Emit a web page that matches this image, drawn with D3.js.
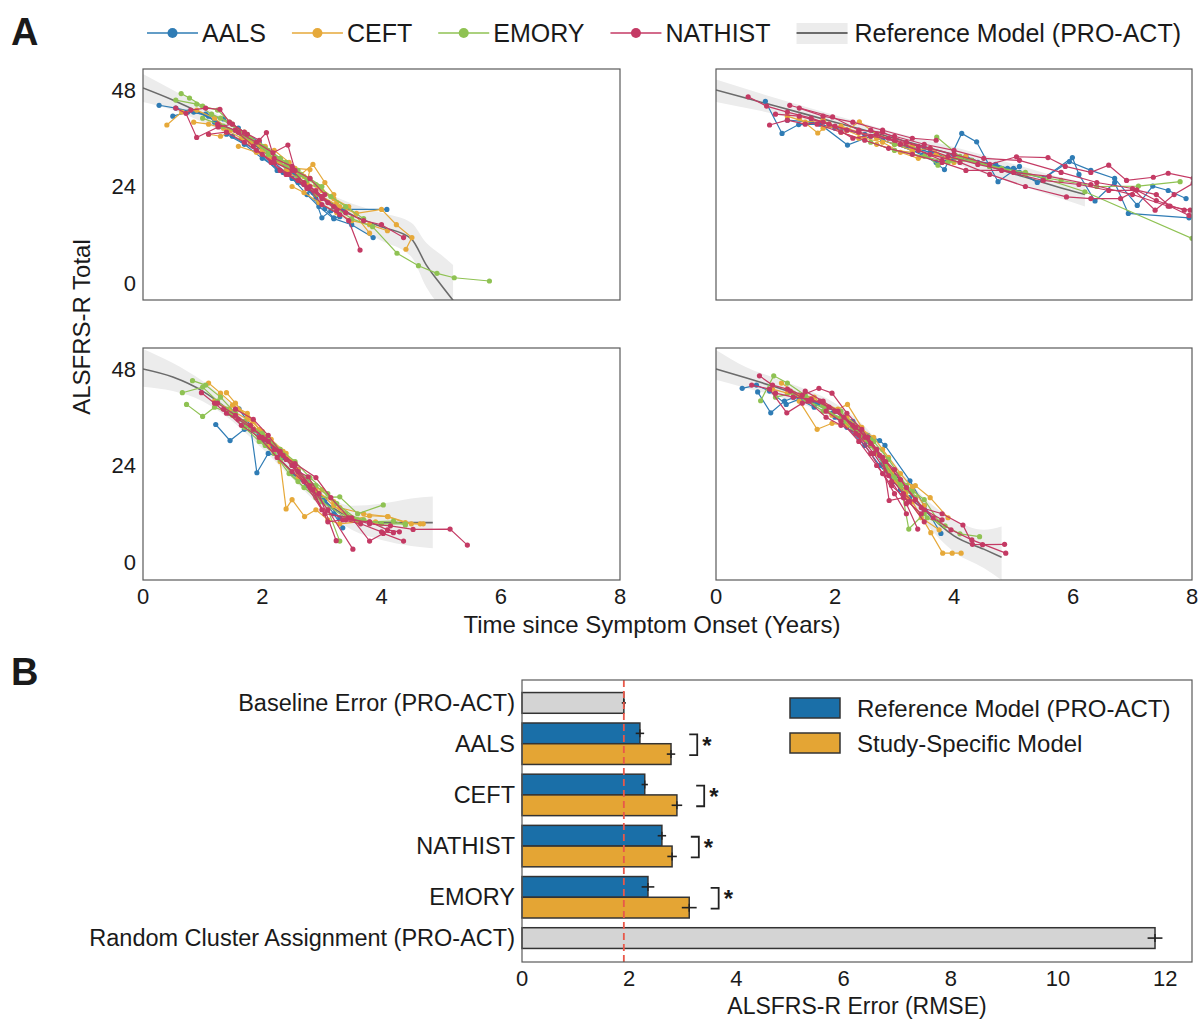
<!DOCTYPE html>
<html>
<head>
<meta charset="utf-8">
<script src="https://cdn.jsdelivr.net/npm/d3@7"></script>
<style>
  body { margin: 0; background: #fff; }
  text { font-family: "Liberation Sans", Arial, sans-serif; fill: #1a1a1a; }
</style>
</head>
<body>
<svg id="chart" width="1203" height="1019"></svg>
<script>
// ---------- Panel A data: ALSFRS-R trajectories, [years since onset, total score] ----------
const studies = ["AALS", "CEFT", "EMORY", "NATHIST"];
const studyColors = ["#2f7cb5", "#e6a93a", "#8fc253", "#c43a64"];
const scoreTicks = [0, 24, 48];
const yearTicks = [0, 2, 4, 6, 8];

// Cluster 1 (top left)
const p1AALS = [
  [[0.27,44.2],[0.55,43.5],[0.85,42.5],[1.1,41.5],[1.35,40.8],[1.6,38.5],[1.95,35],[2.3,31]],
  [[0.5,41.5],[0.75,42.5],[1.05,42],[1.3,39],[1.55,38],[1.8,35.5],[2.1,32.5]],
  [[1.4,37],[1.7,34.5],[2.0,31],[2.35,27.5],[2.6,25],[2.85,22.5],[3.0,16.2],[3.15,18],[3.36,18.3],[4.09,18.3]],
  [[2.2,30],[2.5,26],[2.75,22],[2.95,19],[3.2,16],[3.5,14.5],[3.86,11.3]],
  [[1.2,40],[1.5,36.5],[1.9,33],[2.25,28],[2.55,27],[2.8,23]],
  [[2.6,26],[2.9,21],[3.05,18.5],[3.2,16.2],[3.3,16.5]]
];
const p1CEFT = [
  [[0.4,39.3],[0.65,42.5],[0.9,43],[1.2,41],[1.45,38],[1.7,37.5],[2.0,33],[2.3,30]],
  [[1.1,37],[1.3,36.5],[1.55,38],[1.8,35],[2.05,34],[2.3,30.5],[2.55,28.5],[2.8,28.2],[2.75,25],[3.0,23],[3.25,20]],
  [[2.4,28],[2.7,25],[3.0,21.5],[3.3,19],[3.58,17.3],[4.0,18.3],[4.25,14.5],[4.51,11.3],[4.41,8.4]],
  [[1.6,34],[1.9,32.5],[2.15,31],[2.45,28],[2.7,26.5],[2.95,24],[3.2,21],[3.45,19],[3.8,12.4]],
  [[2.2,33],[2.45,30],[2.65,27],[2.85,29.5],[3.05,25],[3.2,22]],
  [[2.5,24],[2.7,22.5],[2.95,20],[3.25,17.5],[3.5,15.5],[3.8,14.5],[4.1,13]],
  [[0.85,40],[1.1,39.5],[1.35,38.5],[1.65,36],[1.95,34.5]]
];
const p1EMORY = [
  [[0.64,47.1],[0.78,46],[1.0,44],[1.25,43],[1.5,39.5],[1.8,36],[2.1,33]],
  [[0.55,45.5],[0.9,44.5],[1.15,42],[1.45,40],[1.75,37],[2.0,34],[2.3,31],[2.6,28]],
  [[1.3,41],[1.6,38],[1.9,35],[2.2,31.5],[2.5,28.5],[2.8,26],[3.0,24]],
  [[2.6,26.5],[2.9,22],[3.2,19],[3.5,16],[3.85,14],[4.26,7.4],[4.62,4.3],[4.93,2.4],[5.22,1.3],[5.81,0.5]],
  [[1.0,41],[1.35,39],[1.7,36.5],[2.05,33.5],[2.4,30],[2.75,25.5]],
  [[2.1,32],[2.4,29],[2.65,27],[2.9,24.5],[3.15,21.5],[3.4,19],[3.7,16]]
];
const p1NATHIST = [
  [[0.55,43.5],[0.72,42.2],[0.9,36.2],[1.26,38.8],[1.5,39.5],[1.75,37]],
  [[0.8,43],[1.05,43.5],[1.29,43.2],[1.45,40],[1.7,37.5],[1.95,35.5],[2.07,37.4],[2.2,31],[2.5,29]],
  [[1.6,37.5],[1.9,35],[2.18,32.4],[2.43,34.3],[2.55,28],[2.8,26],[3.05,22]],
  [[1.1,37],[1.4,37.5],[1.7,35],[2.0,32],[2.3,28],[2.6,25.5],[2.9,23],[3.2,19]],
  [[2.4,27],[2.7,24.5],[3.0,21],[3.25,18],[3.45,15.5],[3.64,8.2]],
  [[2.8,24],[3.1,20],[3.4,17.5],[3.7,15.5],[4.0,14.5],[4.37,11.3]],
  [[1.25,39.5],[1.55,38],[1.85,34],[2.15,30],[2.45,27],[2.75,23.5],[3.0,21.5]],
  [[1.9,33],[2.2,30],[2.5,28],[2.7,25],[3.0,19.5],[3.3,17]]
];

// Cluster 2 (top right)
const p2AALS = [
  [[0.83,45.2],[1.11,37.2],[1.39,39.4],[1.75,39.5],[2.21,34.3],[2.6,36.5],[3.0,35.5]],
  [[1.2,40.5],[1.6,40],[2.0,38.5],[2.5,37],[3.0,34.5],[3.5,32],[3.84,28.2],[4.13,37.2],[4.38,35.1],[4.74,25.2],[5.1,29]],
  [[3.2,34],[3.6,32.5],[4.0,31],[4.4,30],[4.9,28.5],[5.5,26],[5.99,31.2],[6.1,27],[6.37,20.4],[6.7,25],[6.93,17.3],[7.95,16.2]],
  [[2.8,35.5],[3.3,33],[3.7,30],[4.2,31.5],[4.6,29],[5.0,28.5],[5.4,25],[5.94,30.2],[6.3,28],[6.7,26],[7.08,19.3],[7.34,24.1],[7.6,23],[7.9,21]],
  [[3.5,33.5],[3.9,31],[4.3,30.5],[4.7,29.5],[5.1,27.5]]
];
const p2CEFT = [
  [[1.4,41],[1.71,37.3],[1.9,39.5],[2.2,38],[2.41,40.1],[2.7,37],[3.0,35.5],[3.3,34]],
  [[1.8,38.5],[2.1,39],[2.4,37.5],[2.7,36],[3.0,34.5],[3.3,33],[3.6,33.5],[3.9,31],[4.2,31.5]],
  [[2.2,38],[2.5,36],[2.8,35],[3.1,32.5],[3.4,31],[3.7,32],[4.0,30]],
  [[1.2,41.5],[1.5,40],[1.8,40.5],[2.1,37.5],[2.4,36],[2.7,34.5],[3.0,33],[3.3,32.5]]
];
const p2EMORY = [
  [[3.0,34.5],[3.4,33.5],[3.73,29.3],[4.1,31],[4.6,29],[5.2,27],[5.8,25.5],[6.4,24],[7.1,24.1],[7.8,25.2]],
  [[3.71,36.3],[4.1,31.5],[4.6,29],[5.2,27.5],[6.2,22.7],[8.0,11.1]],
  [[2.6,35],[3.0,33],[3.5,31.5],[3.9,30],[4.3,30.5],[4.8,28.5]]
];
const p2NATHIST = [
  [[0.54,46.3],[0.85,44],[1.2,42.5],[1.6,41],[2.0,39],[2.4,37.5],[2.9,36],[3.4,34],[3.9,31.5],[4.4,29.5],[5.0,27.5],[5.6,26.5],[6.3,24.5],[7.0,22],[7.6,19.1],[7.97,18.1]],
  [[0.9,39.3],[1.2,40.5],[1.5,39.5],[1.8,40],[2.2,38],[2.6,36.5],[3.0,35.5],[3.4,33],[3.8,30.5]],
  [[1.24,44.2],[1.96,41.3],[2.4,38],[2.8,37.5],[3.2,35],[3.6,33.5],[4.0,32],[4.6,29.5],[5.05,31.4],[5.58,31.2],[5.87,29],[6.3,27.5],[6.6,29.3],[6.9,25.5],[7.35,26.3],[7.6,27.3],[8.02,26]],
  [[1.0,42],[1.4,41.5],[1.9,39.5],[2.3,36],[2.7,37],[3.1,34.5],[3.6,32],[4.1,30],[4.6,27],[5.2,24],[5.89,21.4],[6.3,21],[6.8,21],[7.07,23.1],[7.4,20.5],[7.87,18.1]],
  [[1.7,39.5],[2.1,37.5],[2.5,35.5],[2.9,33.5],[3.3,32],[3.8,30],[4.2,28],[4.8,28],[5.5,25.5],[6.1,24.5],[6.6,23],[7.07,23.1],[7.4,22],[7.63,19.1],[7.95,16.8]],
  [[2.6,38],[3.0,36.5],[3.5,34.5],[4.0,33],[4.5,31],[5.1,30.5],[5.8,27.5],[6.4,25],[7.0,23.5],[7.38,18.1],[7.7,22],[8.02,24.8]],
  [[1.4,43.5],[1.8,41.5],[2.3,40],[2.8,38],[3.3,36],[3.7,35.5]]
];

// Cluster 3 (bottom left)
const p3AALS = [
  [[1.22,34.2],[1.46,30.2],[1.7,33],[1.95,32],[2.15,28.5]],
  [[1.45,37],[1.61,38.1],[1.8,34],[1.91,22.2],[2.1,27],[2.35,26]],
  [[2.0,30.5],[2.3,27],[2.6,23],[2.85,19],[3.05,15.5],[3.3,11]],
  [[2.5,22],[2.75,19],[2.95,17],[3.2,12],[3.35,8.5]]
];
const p3CEFT = [
  [[1.4,42.1],[1.55,39.5],[1.75,36],[2.0,32.5],[2.3,28],[2.5,25]],
  [[1.5,39],[1.75,37],[1.95,33],[2.15,30.5],[2.4,27],[2.6,23],[2.8,19],[3.0,18],[3.3,13.5],[3.7,12],[4.1,11.3],[4.4,9.8],[4.65,9.5]],
  [[2.1,29],[2.3,25],[2.4,13.2],[2.5,15.5],[2.71,11.3],[2.9,13],[3.1,10.5],[3.3,9.5],[3.6,10]],
  [[1.2,40],[1.45,38],[1.75,35.5],[2.05,31],[2.35,27.5],[2.6,22],[2.9,17.5],[3.2,15],[3.5,11],[3.9,10]],
  [[1.1,44.5],[1.3,42],[1.6,38],[1.85,35],[2.1,30]],
  [[2.6,21],[2.9,18],[3.2,14],[3.5,10.5],[3.8,11.5],[4.11,11.3],[4.5,9.5],[4.7,9.5]]
];
const p3EMORY = [
  [[0.83,45.1],[1.05,44],[1.3,41],[1.55,37],[1.8,33],[2.05,29],[2.3,25.5],[2.6,20],[2.9,16],[3.3,16.2],[3.6,12],[4.03,14.2]],
  [[0.66,42.1],[1.0,43.5],[1.25,40],[1.5,36.5],[1.75,34],[2.0,31.5],[2.2,29],[2.5,24],[2.8,19.5],[3.1,13],[3.3,5.2]],
  [[0.73,39.2],[1.0,36.2],[1.2,38.5],[1.45,37],[1.7,33.5],[1.95,30],[2.2,27],[2.45,22],[2.7,18.5],[3.0,15],[3.4,11],[3.8,10],[4.2,10.2],[4.4,9.2]],
  [[1.4,38],[1.7,35],[2.0,32],[2.3,28],[2.55,25],[2.8,21],[3.1,17],[3.4,12],[3.7,10.5],[4.0,9.5],[4.4,9.5]],
  [[1.8,33],[2.1,30.5],[2.35,26.5],[2.6,22.5],[2.9,19],[3.25,14.5],[3.6,10.5]]
];
const p3NATHIST = [
  [[0.98,42.1],[1.2,39.5],[1.4,37],[1.6,35.5],[1.85,33],[2.1,30],[2.35,26.5],[2.6,22.5],[2.77,21.2],[2.95,17],[3.24,5.3]],
  [[1.25,39.5],[1.55,36.5],[1.8,34],[2.05,30.5],[2.3,27.5],[2.55,24],[2.8,19],[3.1,13],[3.52,3.2]],
  [[1.35,38],[1.65,34],[1.95,31],[2.25,26],[2.5,22.5],[2.8,18.5],[3.05,12],[3.5,11],[3.8,5.2],[4.03,7.1],[4.37,5.2]],
  [[2.0,31],[2.3,27],[2.55,24.5],[2.9,21],[3.15,16],[3.45,11],[3.8,9.5],[4.15,9],[4.53,8.1],[5.15,8.2],[5.44,4.2]],
  [[1.55,38],[1.85,35.5],[2.1,31.5],[2.4,25.5],[2.7,20],[3.0,13],[3.4,10.5],[3.8,10],[4.1,8],[4.3,7.5]],
  [[2.2,28],[2.5,24],[2.85,18],[3.1,10],[3.35,10.5],[3.65,9.5],[4.0,7.5],[4.2,7.3]]
];

// Cluster 4 (bottom right)
const p4AALS = [
  [[0.44,43.2],[0.68,44],[0.9,42.5],[1.18,39.2],[1.4,40.5],[1.65,38.5]],
  [[0.7,42.3],[0.92,37.1],[1.15,40],[1.4,41.5],[1.7,39.5],[2.0,37.5],[2.3,35],[2.55,31.5],[2.75,30.2],[2.84,29],[3.26,20.2],[3.5,14],[3.78,7.1]],
  [[1.3,41],[1.6,40],[1.95,37],[2.2,33.5],[2.5,29],[2.75,24],[3.0,20],[3.25,16],[3.5,13]],
  [[2.0,36],[2.3,33],[2.55,30],[2.8,24.5],[3.1,18]]
];
const p4CEFT = [
  [[0.95,43],[1.2,42],[1.5,41],[1.8,39.5],[2.05,38],[2.21,39.2],[2.45,33.5],[2.7,28],[2.95,22],[3.2,17.5]],
  [[1.4,40],[1.7,33],[1.95,34.5],[2.2,34],[2.5,30.5],[2.7,27],[2.9,22.5],[3.1,19],[3.3,15],[3.61,7.3],[3.81,2.2],[3.97,2.2],[4.12,2.2]],
  [[1.1,44.5],[1.4,41.5],[1.65,41],[1.95,36.5],[2.3,34],[2.6,29],[2.85,25],[3.05,20],[3.35,19],[3.6,16],[3.9,11]],
  [[2.2,36],[2.4,33.5],[2.65,31],[2.9,26],[3.1,22],[3.3,18.5],[3.5,14]],
  [[2.8,28],[3.0,20.5],[3.2,16],[3.45,11],[3.75,8]]
];
const p4EMORY = [
  [[0.75,40.1],[0.97,46.3],[1.2,44.5],[1.5,41.5],[1.8,39],[2.1,37.5],[2.35,33],[2.6,29],[2.85,24],[3.1,19.5],[3.24,8.2],[3.5,12]],
  [[1.0,41],[1.3,42],[1.55,40],[1.85,38],[2.15,35],[2.45,31],[2.7,27.5],[3.0,21],[3.3,17.5],[3.55,11],[3.85,9],[4.1,7],[4.43,6.3]],
  [[1.5,40.5],[1.8,37.5],[2.1,36],[2.4,33],[2.65,30],[2.9,25.5],[3.2,19],[3.5,15.5],[3.75,10]],
  [[2.3,34],[2.6,30.5],[2.85,23],[3.1,19],[3.35,16]]
];
const p4NATHIST = [
  [[0.73,46.3],[0.95,44],[1.2,43],[1.45,41.5],[1.73,43.2],[1.95,42],[2.2,37],[2.45,33],[2.7,28],[2.95,20],[3.2,14.5],[3.39,8.2]],
  [[0.6,44],[0.9,43],[1.19,37.1],[1.45,39.5],[1.75,40],[2.0,37.5],[2.3,34],[2.55,31],[2.8,26],[2.91,15.3],[3.15,16],[3.45,12]],
  [[1.0,42],[1.3,41],[1.6,40.5],[1.9,38.5],[2.15,36],[2.4,31.5],[2.65,27],[2.9,21.5],[3.15,17],[3.45,13.5],[3.8,12],[4.15,9.2],[4.31,4.4],[4.48,4.3],[4.85,4.4]],
  [[1.5,42.5],[1.8,40],[2.05,37.5],[2.35,33.5],[2.6,29.5],[2.85,25],[3.1,20.5],[3.35,15.5],[3.65,11],[3.95,8],[4.3,5.5],[4.87,2.2]],
  [[1.25,42.5],[1.55,40],[1.85,36],[2.1,34],[2.35,32],[2.6,27],[2.8,22],[3.0,17],[3.2,12]],
  [[1.85,37.5],[2.1,35],[2.4,30],[2.7,24],[2.95,19],[3.25,15],[3.5,10]],
  [[2.5,31],[2.75,26.5],[3.0,23],[3.2,18.5],[3.5,13],[3.8,10.5]]
];

// Reference model (PRO-ACT) per cluster: [years, mean, lower, upper]
const refP1 = [[0,48.5,45,52],[0.5,45.5,43,48],[1,42,40,44],[1.5,38,36.3,39.7],[2,33,31.5,34.5],[2.5,27.5,26,29],[3,21.5,19.8,23.2],[3.5,17,14.5,19.8],[4,14,10.5,17.5],[4.5,11,6.5,15],[4.75,4.5,-1,10],[5.0,-0.5,-6,7],[5.2,-4.3,-8,4.5]];
const refP2 = [[0,48,45,50.6],[1,44,42,46],[2,40,38.3,41.7],[3,36,34.5,37.5],[4,31.8,29.8,33.8],[5,27.2,24.8,29.6],[6,22.8,20,25.6],[6.2,22,19,25]];
const refP3 = [[0,48,43.6,53],[0.5,46,42.5,49.5],[1,42.5,40,45],[1.5,37,35,39],[2,30,28.2,31.8],[2.5,22.5,20.8,24.2],[3,15.5,13.5,17.5],[3.5,11,8,14],[4,9.8,5.5,14.5],[4.5,9.8,4,15.8],[4.86,9.8,3.4,16.3]];
const refP4 = [[0,48,45.3,52.7],[0.5,45.8,43.3,48.5],[1,43.5,41.3,45.7],[1.5,41,39,43],[2,37.5,35.5,39.5],[2.5,31.5,29.3,33.7],[3,22,19.5,24.5],[3.5,13,10,16],[4,6.5,2.5,10.5],[4.5,3.2,-1.5,8],[4.8,1.2,-4.5,8.8]];

// ---------- Panel B data: RMSE of ALSFRS-R prediction ----------
const pairedStudies = ["AALS", "CEFT", "NATHIST", "EMORY"];
const refModelRMSE   = [2.20, 2.29, 2.61, 2.35];
const refModelErr    = [0.06, 0.04, 0.06, 0.10];
const studyModelRMSE = [2.78, 2.89, 2.80, 3.12];
const studyModelErr  = [0.06, 0.08, 0.07, 0.12];
const baselineLabel = "Baseline Error (PRO-ACT)";
const baselineRMSE = [1.90], baselineErr = [0.02];
const randomLabel = "Random Cluster Assignment (PRO-ACT)";
const randomRMSE = [11.81], randomErr = [0.12];
const rmseTicks = [0, 2, 4, 6, 8, 10, 12];
const modelNames = ["Reference Model (PRO-ACT)", "Study-Specific Model"];

// ---------- drawing ----------
const svg = d3.select("#chart");
const color = d3.scaleOrdinal(studies, studyColors);
const frameStroke = "#5a5a5a";

const panelData = [
  { traj: [p1AALS, p1CEFT, p1EMORY, p1NATHIST], ref: refP1 },
  { traj: [p2AALS, p2CEFT, p2EMORY, p2NATHIST], ref: refP2 },
  { traj: [p3AALS, p3CEFT, p3EMORY, p3NATHIST], ref: refP3 },
  { traj: [p4AALS, p4CEFT, p4EMORY, p4NATHIST], ref: refP4 }
];
const panelBoxes = [
  { x: 143, y: 69,  w: 477, h: 231, left: true,  bottom: false },
  { x: 716, y: 69,  w: 476, h: 231, left: false, bottom: false },
  { x: 143, y: 348, w: 477, h: 232, left: true,  bottom: true },
  { x: 716, y: 348, w: 476, h: 232, left: false, bottom: true }
];

const defs = svg.append("defs");

panelData.forEach((pd, i) => {
  const b = panelBoxes[i];
  const x = d3.scaleLinear().domain([0, 8]).range([b.x, b.x + b.w]);
  const y = d3.scaleLinear().domain([0, 48]).range([b.y + 214, b.y + 21]);

  defs.append("clipPath").attr("id", "clip" + i)
    .append("rect").attr("x", b.x).attr("y", b.y).attr("width", b.w).attr("height", b.h);

  const g = svg.append("g");
  const inner = g.append("g").attr("clip-path", `url(#clip${i})`);

  // confidence band and mean of the reference model
  inner.append("path").datum(pd.ref)
    .attr("d", d3.area().curve(d3.curveMonotoneX)
      .x(d => x(d[0])).y0(d => y(d[2])).y1(d => y(d[3])))
    .attr("fill", "#ececec");
  inner.append("path").datum(pd.ref)
    .attr("d", d3.line().curve(d3.curveMonotoneX).x(d => x(d[0])).y(d => y(d[1])))
    .attr("fill", "none").attr("stroke", "#6b6b6b").attr("stroke-width", 1.6);

  // patient trajectories
  const line = d3.line().x(d => x(d[0])).y(d => y(d[1]));
  pd.traj.forEach((set, si) => {
    const c = color(studies[si]);
    set.forEach(tr => {
      inner.append("path").datum(tr).attr("d", line)
        .attr("fill", "none").attr("stroke", c).attr("stroke-width", 1.2);
      inner.selectAll(null).data(tr).join("circle")
        .attr("cx", d => x(d[0])).attr("cy", d => y(d[1])).attr("r", 2.6).attr("fill", c);
    });
  });

  g.append("rect").attr("x", b.x).attr("y", b.y).attr("width", b.w).attr("height", b.h)
    .attr("fill", "none").attr("stroke", frameStroke).attr("stroke-width", 1.2);

  if (b.left) {
    g.selectAll(null).data(scoreTicks).join("text")
      .attr("x", b.x - 7).attr("y", d => y(d)).attr("dy", "0.35em")
      .attr("text-anchor", "end").attr("font-size", 22).text(d => d);
  }
  if (b.bottom) {
    g.selectAll(null).data(yearTicks).join("text")
      .attr("x", d => x(d)).attr("y", b.y + b.h + 16).attr("dy", "0.35em")
      .attr("text-anchor", "middle").attr("font-size", 22).text(d => d);
  }
});

// panel A titles
svg.append("text").attr("transform", "translate(82,327) rotate(-90)")
  .attr("text-anchor", "middle").attr("dy", "0.35em").attr("font-size", 24).text("ALSFRS-R Total");
svg.append("text").attr("x", 652).attr("y", 625).attr("dy", "0.35em")
  .attr("text-anchor", "middle").attr("font-size", 24).text("Time since Symptom Onset (Years)");
svg.append("text").attr("x", 11).attr("y", 45).attr("font-size", 38).attr("font-weight", "bold").text("A");
svg.append("text").attr("x", 11).attr("y", 685).attr("font-size", 38).attr("font-weight", "bold").text("B");

// panel A legend
{
  const ly = 33;
  let lx = 147;
  studies.forEach(s => {
    const c = color(s);
    svg.append("line").attr("x1", lx).attr("x2", lx + 51).attr("y1", ly).attr("y2", ly)
      .attr("stroke", c).attr("stroke-width", 1.6);
    svg.append("circle").attr("cx", lx + 25.5).attr("cy", ly).attr("r", 5).attr("fill", c);
    const t = svg.append("text").attr("x", lx + 55).attr("y", ly).attr("dy", "0.36em")
      .attr("font-size", 25).text(s);
    lx += 55 + t.node().getComputedTextLength() + 26;
  });
  svg.append("rect").attr("x", lx).attr("y", ly - 10).attr("width", 51).attr("height", 21).attr("fill", "#ececec");
  svg.append("line").attr("x1", lx).attr("x2", lx + 51).attr("y1", ly).attr("y2", ly)
    .attr("stroke", "#6b6b6b").attr("stroke-width", 1.8);
  svg.append("text").attr("x", lx + 58).attr("y", ly).attr("dy", "0.36em")
    .attr("font-size", 25).text("Reference Model (PRO-ACT)");
}

// ---------- Panel B: horizontal bars ----------
{
  const bx0 = 522, bx1 = 1192, by0 = 680, by1 = 962;
  const x = d3.scaleLinear().domain([0, 12.5]).range([bx0, bx1]);
  const yG = d3.scaleBand().domain(pairedStudies).range([723, 918]).paddingInner(0.19).paddingOuter(0);
  const bw = yG.bandwidth(), half = bw / 2, gap = yG.step() - bw;
  const g = svg.append("g");
  const edge = "#333";
  const blue = "#1a6fa8", gold = "#e4a534", grey = "#d4d4d4";

  const baseTop = yG(pairedStudies[0]) - gap - half;
  const randTop = yG(pairedStudies[pairedStudies.length - 1]) + bw + gap;

  const bar = (top, v, fill) => g.append("rect")
    .attr("x", x(0)).attr("y", top).attr("width", x(v) - x(0)).attr("height", half)
    .attr("fill", fill).attr("stroke", edge).attr("stroke-width", 1.5);
  const err = (yc, v, e) => {
    g.append("line").attr("x1", x(v - e) - 1).attr("x2", x(v + e) + 1).attr("y1", yc).attr("y2", yc)
      .attr("stroke", "#222").attr("stroke-width", 1.6);
    g.append("line").attr("x1", x(v)).attr("x2", x(v)).attr("y1", yc - 4).attr("y2", yc + 4)
      .attr("stroke", "#222").attr("stroke-width", 1.4);
  };

  bar(baseTop, baselineRMSE[0], grey);
  err(baseTop + half / 2, baselineRMSE[0], baselineErr[0]);

  pairedStudies.forEach((s, i) => {
    const top = yG(s);
    bar(top, refModelRMSE[i], blue);
    bar(top + half, studyModelRMSE[i], gold);
    err(top + half / 2, refModelRMSE[i], refModelErr[i]);
    err(top + half * 1.5, studyModelRMSE[i], studyModelErr[i]);
    // significance bracket
    const bxk = x(Math.max(refModelRMSE[i] + refModelErr[i], studyModelRMSE[i] + studyModelErr[i])) + 15;
    const ya = top + half / 2 + 1, yb = top + half * 1.5 + 1;
    g.append("path").attr("d", `M${bxk},${ya}H${bxk + 8}V${yb}H${bxk}`)
      .attr("fill", "none").attr("stroke", "#222").attr("stroke-width", 1.8);
    g.append("text").attr("x", bxk + 13).attr("y", top + bw / 2 + 10)
      .attr("font-size", 24).attr("font-weight", "bold").text("*");
  });

  bar(randTop, randomRMSE[0], grey);
  err(randTop + half / 2, randomRMSE[0], randomErr[0]);

  // reference line at the baseline error
  g.append("line").attr("x1", x(baselineRMSE[0])).attr("x2", x(baselineRMSE[0]))
    .attr("y1", by0).attr("y2", by1)
    .attr("stroke", "#e8584a").attr("stroke-width", 1.8).attr("stroke-dasharray", "7,4");

  g.append("rect").attr("x", bx0).attr("y", by0).attr("width", bx1 - bx0).attr("height", by1 - by0)
    .attr("fill", "none").attr("stroke", frameStroke).attr("stroke-width", 1.2);

  // row labels
  const rowLabels = [[baselineLabel, baseTop + half / 2]]
    .concat(pairedStudies.map(s => [s, yG(s) + bw / 2]))
    .concat([[randomLabel, randTop + half / 2]]);
  g.selectAll(null).data(rowLabels).join("text")
    .attr("x", bx0 - 7).attr("y", d => d[1]).attr("dy", "0.35em")
    .attr("text-anchor", "end").attr("font-size", 23.5).text(d => d[0]);

  g.selectAll(null).data(rmseTicks).join("text")
    .attr("x", d => x(d)).attr("y", by1 + 16).attr("dy", "0.35em")
    .attr("text-anchor", "middle").attr("font-size", 22).text(d => d);
  g.append("text").attr("x", 857).attr("y", 1006).attr("dy", "0.35em")
    .attr("text-anchor", "middle").attr("font-size", 23).text("ALSFRS-R Error (RMSE)");

  // legend
  [blue, gold].forEach((c, i) => {
    const ly = 698 + i * 35;
    g.append("rect").attr("x", 790).attr("y", ly).attr("width", 50).attr("height", 20)
      .attr("fill", c).attr("stroke", edge).attr("stroke-width", 1.5);
    g.append("text").attr("x", 857).attr("y", ly + 10).attr("dy", "0.36em")
      .attr("font-size", 24).text(modelNames[i]);
  });
}
</script>
</body>
</html>
